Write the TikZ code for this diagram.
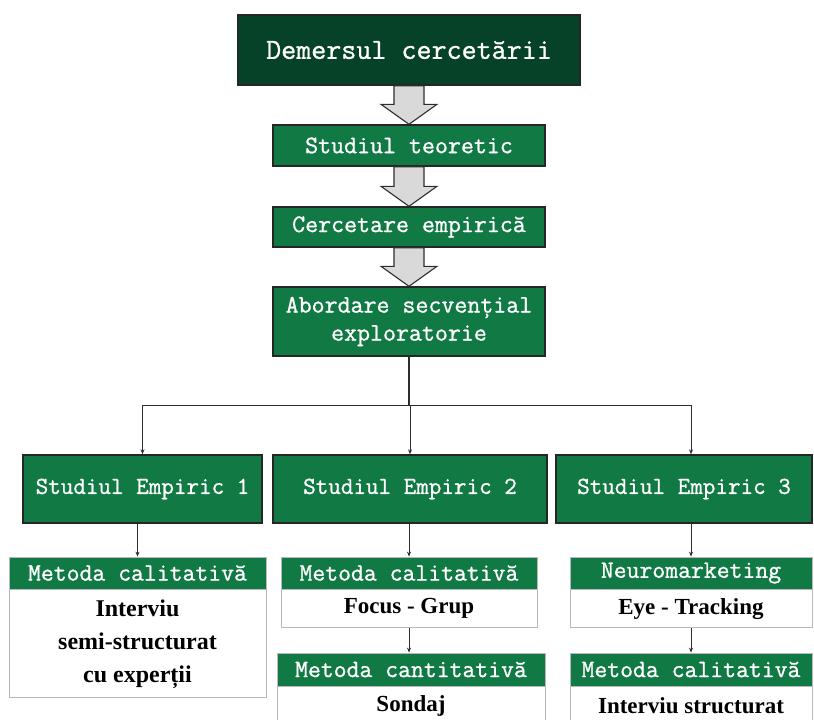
\documentclass[tikz,border=0pt]{standalone}
\usepackage{fontspec}
\setmainfont{Liberation Serif}
\newfontfamily\boxfont[FakeBold=1]{Latin Modern Mono}
\usetikzlibrary{arrows.meta,calc}
\definecolor{deepgreen}{RGB}{5,66,40}
\definecolor{boxgreen}{RGB}{17,121,68}
\definecolor{arrowgrey}{RGB}{217,217,217}
\definecolor{linegrey}{RGB}{45,45,45}

% hollow block arrow from the bottom of one box to the top of the next
\newcommand{\blockarrow}[2]{%
  \draw[blockarr] let \p1=(#1.south), \p2=(#2.north) in
    (\x1-15pt,\y1) -- (\x1+15pt,\y1) -- (\x1+15pt,\y2+20pt) -- (\x1+28pt,\y2+20pt)
    -- (\x1,\y2) -- (\x1-28pt,\y2+20pt) -- (\x1-15pt,\y2+20pt) -- cycle;}

\begin{document}
\begin{tikzpicture}[x=1pt,y=-1pt,
  mainbox/.style={draw=black!85, line width=1.4pt, fill=boxgreen, text=white,
    font=\boxfont\fontsize{25.2}{28}\selectfont, inner sep=0pt, align=center},
  headbox/.style={draw=gray!55, line width=0.8pt, fill=boxgreen, text=white,
    font=\boxfont\fontsize{25}{26}\selectfont, inner sep=0pt, anchor=center},
  bodybox/.style={draw=gray!55, line width=0.8pt, fill=white, text=black,
    font=\bfseries\fontsize{23}{33}\selectfont, inner sep=0pt, align=center, anchor=north},
  blockarr/.style={draw=linegrey, line width=1.1pt, fill=arrowgrey, line join=miter},
  link/.style={draw=linegrey, line width=0.8pt},
  linkarr/.style={link, -{Stealth[length=5pt,width=4pt]}}
]
\useasboundingbox (0,0) rectangle (814,720);

% main sequence
\node[mainbox, fill=deepgreen, minimum width=342pt, minimum height=70pt,
  font=\boxfont\fontsize{29.2}{32}\selectfont] (dem) at (409,50) {Demersul cercetării};
\node[mainbox, minimum width=272pt, minimum height=41pt] (teo) at (409,145.5) {Studiul teoretic};
\node[mainbox, minimum width=272pt, minimum height=40pt] (emp) at (409,227) {Cercetare empirică};
\node[mainbox, minimum width=272pt, minimum height=69pt] (abo) at (409,321.5)
  {Abordare secvențial\\exploratorie};

\blockarrow{dem}{teo}
\blockarrow{teo}{emp}
\blockarrow{emp}{abo}

% empirical studies
\node[mainbox, minimum width=239pt, minimum height=68pt, font=\boxfont\fontsize{24.4}{26}\selectfont]
  (se1) at (142.5,489) {Studiul Empiric 1};
\node[mainbox, minimum width=274pt, minimum height=68pt, font=\boxfont\fontsize{24.4}{26}\selectfont]
  (se2) at (410,489) {Studiul Empiric 2};
\node[mainbox, minimum width=256pt, minimum height=68pt, font=\boxfont\fontsize{24.4}{26}\selectfont]
  (se3) at (684,489) {Studiul Empiric 3};

% methods, column 1
\node[headbox, minimum width=257pt, minimum height=32pt] (m1a) at (137.5,573) {Metoda calitativă};
\node[bodybox, minimum width=257pt, minimum height=108pt, font=\bfseries\fontsize{24}{33}\selectfont]
  (m1b) at (m1a.south) {Interviu\\semi-structurat\\cu experții};

% methods, column 2
\node[headbox, minimum width=256pt, minimum height=32pt] (m2a) at (409,573) {Metoda calitativă};
\node[bodybox, minimum width=256pt, minimum height=38pt] (m2b) at (m2a.south) {Focus - Grup};
\node[headbox, minimum width=268pt, minimum height=33pt] (m2c) at (411,669.5) {Metoda cantitativă};
\node[bodybox, minimum width=268pt, minimum height=38pt] (m2d) at (m2c.south) {Sondaj};

% methods, column 3
\node[headbox, minimum width=242pt, minimum height=32pt] (m3a) at (691,573) {Neuromarketing};
\node[bodybox, minimum width=242pt, minimum height=38pt] (m3b) at (m3a.south) {Eye - Tracking};
\node[headbox, minimum width=242pt, minimum height=33pt] (m3c) at (691,669.5) {Metoda calitativă};
\node[bodybox, minimum width=242pt, minimum height=38pt] (m3d) at (m3c.south) {Interviu structurat};

% branching connectors
\coordinate (split) at (409,405);
\draw[link, line width=1.1pt] (abo.south) -- (split);
\draw[linkarr] (split) -| (se1.north);
\draw[linkarr] (split) -- (se2.north |- split) -- (se2.north);
\draw[linkarr] (split) -| (se3.north -| m3a.north);

\draw[linkarr] (se1.south -| m1a.north) -- (m1a.north);
\draw[linkarr] (se2.south -| m2a.north) -- (m2a.north);
\draw[linkarr] (se3.south -| m3a.north) -- (m3a.north);
\draw[linkarr] (m2b.south) -- (m2b.south |- m2c.north);
\draw[linkarr] (m3b.south) -- (m3b.south |- m3c.north);
\end{tikzpicture}
\end{document}
